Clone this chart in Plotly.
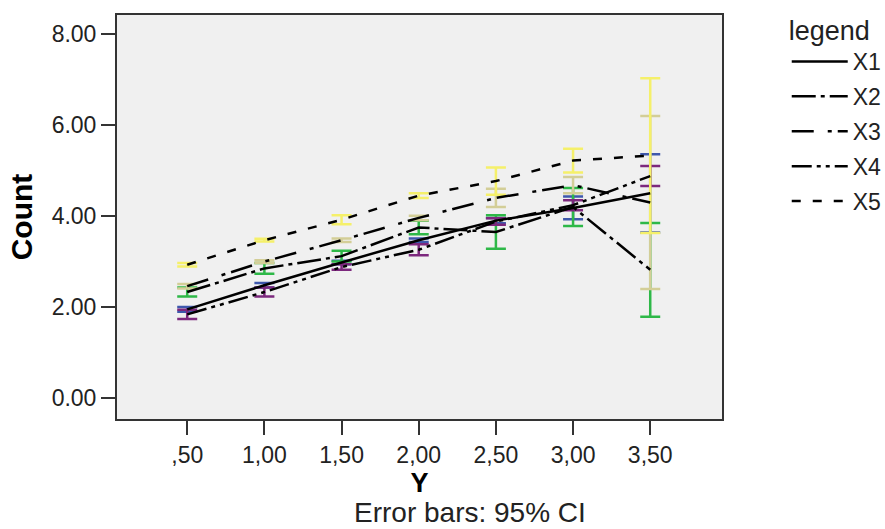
import plotly.graph_objects as go

categories = [",50", "1,00", "1,50", "2,00", "2,50", "3,00", "3,50"]

series_names = ["X1", "X2", "X3", "X4", "X5"]

x1_mean = [1.95, 2.48, 2.98, 3.47, 3.90, 4.18, 4.50]
x1_ci = [0.05, 0.05, 0.04, 0.04, 0.06, 0.25, 0.86]

x2_mean = [2.33, 2.85, 3.12, 3.75, 3.65, 4.20, 2.82]
x2_ci = [0.10, 0.12, 0.12, 0.15, 0.37, 0.42, 1.03]

x3_mean = [2.46, 3.00, 3.47, 3.96, 4.40, 4.68, 4.30]
x3_ci = [0.05, 0.03, 0.04, 0.05, 0.20, 0.18, 1.90]

x4_mean = [1.84, 2.33, 2.88, 3.26, 3.88, 4.24, 4.88]
x4_ci = [0.10, 0.10, 0.06, 0.12, 0.07, 0.11, 0.22]

x5_mean = [2.93, 3.47, 3.92, 4.45, 4.77, 5.22, 5.33]
x5_ci = [0.04, 0.03, 0.10, 0.05, 0.30, 0.26, 1.70]

y_ticks = [0, 2, 4, 6, 8]

means = [x1_mean, x2_mean, x3_mean, x4_mean, x5_mean]
cis = [x1_ci, x2_ci, x3_ci, x4_ci, x5_ci]
bar_colors = ["#3E58AC", "#2EB848", "#D3CE97", "#7C287D", "#F5F06A"]
dashes = ["solid", "24px,5px,4px,5px", "22px,14px,4px,6px",
          "20px,5px,4px,5px,4px,5px", "9px,12px"]

FONT = "Liberation Sans, Arial, sans-serif"

fig = go.Figure()

# error bars (drawn first, under the lines)
for name, m, c, col in zip(series_names, means, cis, bar_colors):
    fig.add_trace(go.Scatter(
        x=categories, y=m, mode="markers",
        marker=dict(size=1, opacity=0),
        error_y=dict(type="data", array=c, visible=True, color=col,
                     thickness=2.5, width=10),
        showlegend=False, hoverinfo="skip", name=name + " CI"))

# mean lines
for i, (name, m, d) in enumerate(zip(series_names, means, dashes)):
    fig.add_trace(go.Scatter(
        x=categories, y=m, mode="lines", name=name,
        legendgroup=name,
        line=dict(color="black", width=2.5, dash=d)))

fig.update_layout(
    width=885, height=529,
    margin=dict(l=117, r=163, t=15, b=110, autoexpand=False),
    paper_bgcolor="white",
    plot_bgcolor="#F0F0F0",
    font=dict(family=FONT, color="#222222"),
    showlegend=True,
    legend=dict(
        title=dict(text="legend", font=dict(size=27, color="#222222", family=FONT)),
        font=dict(size=23, color="#222222", family=FONT),
        x=1.107, xanchor="left", y=1.025, yanchor="top",
        tracegroupgap=2, bgcolor="rgba(0,0,0,0)", itemwidth=56,
    ),
    xaxis=dict(
        type="category", range=[-0.91, 6.93], automargin=False,
        showgrid=False, zeroline=False,
        showline=True, linecolor="#333333", linewidth=2, mirror=True,
        ticks="outside", ticklen=14, tickwidth=2, tickcolor="#333333",
        tickfont=dict(size=23, color="#222222"),
        title=dict(text="<b>Y</b>", font=dict(size=27, color="black"), standoff=2),
    ),
    yaxis=dict(
        range=[-0.46, 8.42], tickvals=y_ticks, tickformat=".2f", automargin=False,
        showgrid=False, zeroline=False,
        showline=True, linecolor="#333333", linewidth=2, mirror=True,
        ticks="outside", ticklen=14, tickwidth=2, tickcolor="#333333",
        tickfont=dict(size=23, color="#222222"),
        title=dict(text="<b>Count</b>", font=dict(size=30, color="black"), standoff=10),
    ),
    annotations=[dict(
        text="Error bars: 95% CI", xref="paper", yref="paper",
        x=0.584, y=-0.2723, xanchor="center", yanchor="bottom",
        borderpad=0,
        showarrow=False, font=dict(size=28, color="#222222", family=FONT))],
)

fig.write_html("out.html", config={"displayModeBar": False},
               post_script="document.body.style.margin='0';")
